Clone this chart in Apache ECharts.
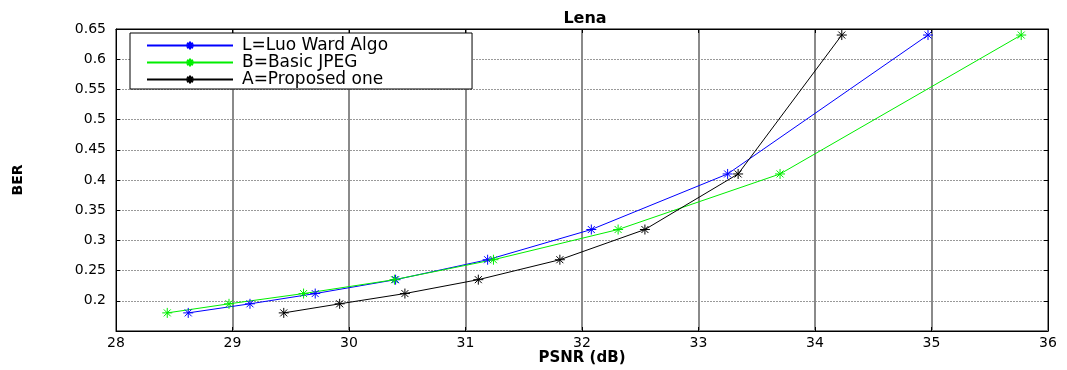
<!DOCTYPE html>
<html>
<head>
<meta charset="utf-8">
<script src="https://cdn.jsdelivr.net/npm/echarts@6/dist/echarts.min.js"></script>
<style>
html,body{margin:0;padding:0;background:#fff;}
#chart{width:1067px;height:370px;}
</style>
</head>
<body>
<div id="chart"></div>
<script>
const titleText = 'Lena';
const xName = 'PSNR (dB)';
const yName = 'BER';
const seriesNames = ['L=Luo Ward Algo', 'B=Basic JPEG', 'A=Proposed one'];
const berValues = [0.18, 0.195, 0.212, 0.235, 0.268, 0.318, 0.41, 0.64];
const luoPsnr = [28.62, 29.15, 29.71, 30.40, 31.19, 32.08, 33.25, 34.97];
const jpegPsnr = [28.44, 28.97, 29.61, 30.39, 31.24, 32.31, 33.70, 35.77];
const proposedPsnr = [29.44, 29.92, 30.48, 31.11, 31.81, 32.54, 33.34, 34.23];
const xTicks = [28, 29, 30, 31, 32, 33, 34, 35, 36];
const yTicks = [0.2, 0.25, 0.3, 0.35, 0.4, 0.45, 0.5, 0.55, 0.6, 0.65];

const colors = ['#0000ff', '#00ee00', '#000000'];
const psnrSets = [luoPsnr, jpegPsnr, proposedPsnr];
const star = 'path://M0,-5L0,5M-5,0L5,0M-3.5,-3.5L3.5,3.5M-3.5,3.5L3.5,-3.5';
const wide = '"DejaVu Sans", sans-serif';

const chart = echarts.init(document.getElementById('chart'));
const series = seriesNames.map((name, i) => ({
  name: name,
  type: 'line',
  data: psnrSets[i].map((x, j) => [x, berValues[j]]),
  symbol: star,
  symbolSize: 10,
  lineStyle: { color: colors[i], width: 1 },
  itemStyle: { color: colors[i], borderColor: colors[i], borderWidth: 1 },
  emphasis: { disabled: true },
  animation: false
}));

const yFmt = v => {
  const r = Math.round(v * 100) / 100;
  return yTicks.some(t => Math.abs(t - r) < 1e-6) ? String(r) : '';
};

chart.setOption({
  backgroundColor: '#fff',
  animation: false,
  title: {
    text: titleText,
    left: 580, top: 6, textAlign: 'center',
    textStyle: { fontFamily: wide, fontWeight: 'bold', fontSize: 16, color: '#000' }
  },
  legend: {
    orient: 'vertical',
    left: 130, top: 33,
    padding: [4, 84, 1, 16],
    itemWidth: 86, itemHeight: 10, itemGap: 0,
    backgroundColor: '#fff',
    borderColor: '#000', borderWidth: 1,
    textStyle: { fontFamily: wide, fontSize: 17, lineHeight: 16, color: '#000', padding: [0, 0, 0, 4] },
    data: seriesNames
  },
  grid: { left: 116, right: 19, top: 29, bottom: 39, containLabel: false, outerBoundsMode: 'none', show: true, borderColor: '#000', borderWidth: 1, backgroundColor: '#fff' },
  xAxis: [{
    type: 'value', min: xTicks[0], max: xTicks[xTicks.length - 1], interval: 1,
    name: xName, nameLocation: 'middle', nameGap: 20, nameMoveOverlap: false,
    nameTextStyle: { fontFamily: wide, fontWeight: 'bold', fontSize: 15, color: '#000' },
    axisLine: { lineStyle: { color: '#000', width: 1 } },
    axisTick: { inside: true, length: 4, lineStyle: { color: '#000' } },
    axisLabel: { fontFamily: wide, fontSize: 14, color: '#000', margin: 5 },
    splitLine: { show: true, lineStyle: { color: '#8a8a8a', width: 2, type: 'solid' } }
  }, {
    type: 'value', position: 'top', min: xTicks[0], max: xTicks[xTicks.length - 1], interval: 1,
    axisLine: { lineStyle: { color: '#000' } },
    axisTick: { inside: true, length: 4, lineStyle: { color: '#000' } },
    axisLabel: { show: false }, splitLine: { show: false }
  }],
  yAxis: [{
    type: 'value', min: 0.15, max: 0.65, interval: 0.05,
    name: yName, nameLocation: 'middle', nameGap: 91, nameRotate: 90, nameMoveOverlap: false,
    nameTextStyle: { fontFamily: wide, fontWeight: 'bold', fontSize: 14, color: '#000' },
    axisLine: { lineStyle: { color: '#000', width: 1 } },
    axisTick: { inside: true, length: 4, lineStyle: { color: '#000' } },
    axisLabel: { fontFamily: wide, fontSize: 14, color: '#000', margin: 10, formatter: yFmt },
    splitLine: { show: true, lineStyle: { color: '#999', width: 1, type: [2, 1] } }
  }, {
    type: 'value', position: 'right', min: 0.15, max: 0.65, interval: 0.05,
    axisLine: { show: true, lineStyle: { color: '#000' } },
    axisTick: { show: true, inside: true, length: 4, lineStyle: { color: '#000' } },
    axisLabel: { show: false }, splitLine: { show: false }
  }],
  series: series
});
</script>
</body>
</html>
